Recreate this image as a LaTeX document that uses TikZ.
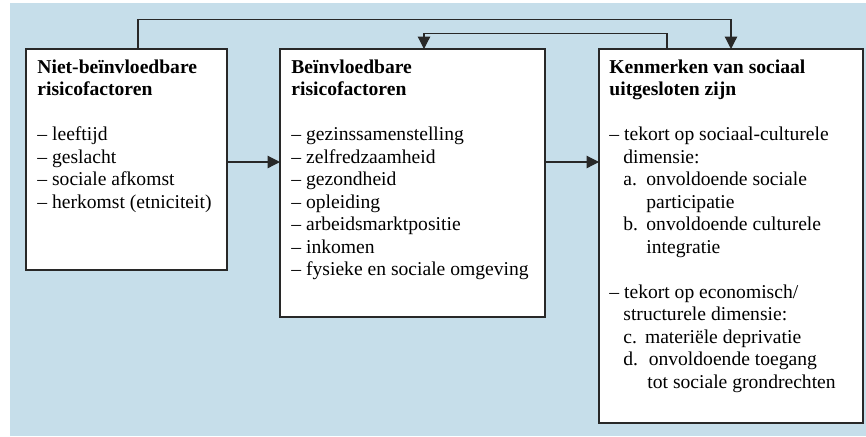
\documentclass[tikz,border=0pt]{standalone}
\usepackage{fontspec}
\setmainfont{Liberation Serif}
\usetikzlibrary{arrows.meta}
\definecolor{bg}{RGB}{198,222,234}
\definecolor{ln}{RGB}{40,40,40}
\begin{document}
\begin{tikzpicture}[x=0.5pt,y=-0.5pt,
  box/.style={draw=ln, line width=0.6pt, fill=white, inner sep=0pt, outer sep=0pt, anchor=north west},
  txt/.style={inner sep=0pt, anchor=base west, font=\fontsize{9.8}{11.25}\selectfont},
  conn/.style={draw=ln, line width=0.6pt},
  arr/.style={conn, -{Triangle[length=6.2pt,width=6.2pt]}}]
\useasboundingbox (0,0) rectangle (866,436);
\fill[bg] (10,3.3) rectangle (866,436);

\node[box, minimum width=100.5pt, minimum height=110.5pt] (b1) at (26,49) {};
\node[box, minimum width=132.5pt, minimum height=134pt] (b2) at (280,49) {};
\node[box, minimum width=132pt, minimum height=187pt] (b3) at (599,49) {};

\node[txt] (t1) at (37,73.3) {\parbox[t]{96pt}{\raggedright
  \textbf{Niet-beïnvloedbare}\\
  \textbf{risicofactoren}\\
  \mbox{}\\
  – leeftijd\\
  – geslacht\\
  – sociale afkomst\\
  – herkomst (etniciteit)}};

\node[txt] (t2) at (291,73.3) {\parbox[t]{128pt}{\raggedright
  \textbf{Beïnvloedbare}\\
  \textbf{risicofactoren}\\
  \mbox{}\\
  – gezinssamenstelling\\
  – zelfredzaamheid\\
  – gezondheid\\
  – opleiding\\
  – arbeidsmarktpositie\\
  – inkomen\\
  – fysieke en sociale omgeving}};

\node[txt] (t3) at (609,73.3) {\parbox[t]{126pt}{\raggedright
  \textbf{Kenmerken van sociaal}\\
  \textbf{uitgesloten zijn}\\
  \mbox{}\\
  – tekort op sociaal-culturele\\
  \hspace*{7pt}dimensie:\\
  \hspace*{7pt}\makebox[11.5pt][l]{a.}onvoldoende sociale\\
  \hspace*{18.5pt}participatie\\
  \hspace*{7pt}\makebox[11.5pt][l]{b.}onvoldoende culturele\\
  \hspace*{18.5pt}integratie\\
  \mbox{}\\
  – tekort op economisch/\\
  \hspace*{7pt}structurele dimensie:\\
  \hspace*{7pt}\makebox[10.8pt][l]{c.}materiële deprivatie\\
  \hspace*{7pt}\makebox[12.7pt][l]{d.}onvoldoende toegang\\
  \hspace*{19pt}tot sociale grondrechten}};

\coordinate (top1) at (138,19.3);
\coordinate (top2) at (424,33.7);
\coordinate (src2) at (667,33.7);
\coordinate (midy) at (0,162);

\draw[arr] (b1.north -| top1) -- (top1) -| (b3.north);
\draw[arr] (b3.north -| src2) -- (src2) -- (top2) -- (b2.north -| top2);
\draw[arr] (b1.east |- midy) -- (b2.west |- midy);
\draw[arr] (b2.east |- midy) -- (b3.west |- midy);
\end{tikzpicture}
\end{document}
